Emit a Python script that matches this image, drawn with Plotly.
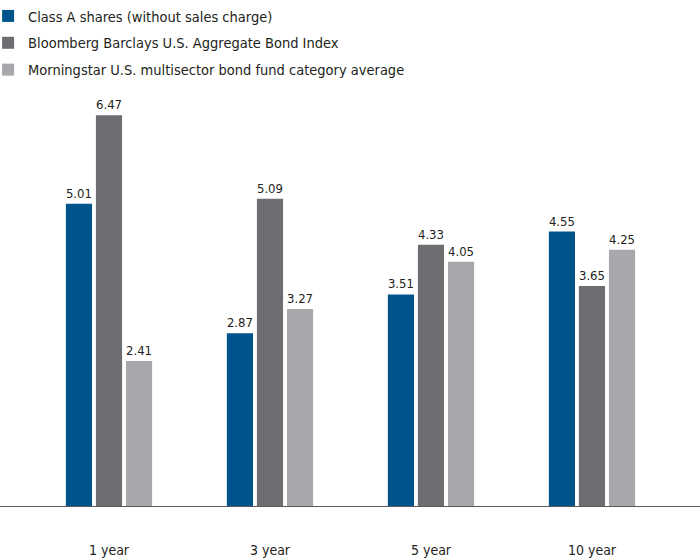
import plotly.graph_objects as go

categories = ["1 year", "3 year", "5 year", "10 year"]
series_names = [
    "Class A shares (without sales charge)",
    "Bloomberg Barclays U.S. Aggregate Bond Index",
    "Morningstar U.S. multisector bond fund category average",
]
class_a = [5.01, 2.87, 3.51, 4.55]
bloomberg = [6.47, 5.09, 4.33, 3.65]
morningstar = [2.41, 3.27, 4.05, 4.25]
colors = ["#00548b", "#6d6e71", "#a6a8ab"]

FONT = "Liberation Sans Narrow, DejaVu Sans Condensed, Open Sans, sans-serif"
xpos = list(range(len(categories)))

fig = go.Figure()
for i, (name, vals) in enumerate(zip(series_names, [class_a, bloomberg, morningstar])):
    fig.add_trace(go.Bar(
        x=xpos, y=vals, name=name, marker_color=colors[i], marker_line_width=0,
        text=[f"{v:.2f}" for v in vals], textposition="outside", constraintext="none",
        textfont=dict(size=13, color="#231f20", family=FONT),
        cliponaxis=False, legendgroup=f"g{i}",
    ))

fig.update_layout(
    width=700, height=559,
    margin=dict(l=0, r=0, t=90, b=52, autoexpand=False),
    paper_bgcolor="white", plot_bgcolor="white",
    barmode="group", bargap=0.44, bargroupgap=0.13,
    font=dict(family=FONT, color="#231f20"),
    showlegend=True,
    legend=dict(x=-0.017, y=1.0, xref="paper", yref="container", xanchor="left", yanchor="top",
                orientation="v", font=dict(size=14.5, family=FONT, color="#231f20"),
                tracegroupgap=5, bgcolor="rgba(0,0,0,0)"),
    xaxis=dict(range=[-0.677, 3.671], tickvals=xpos, ticktext=categories,
               showgrid=False, zeroline=False, showline=False, automargin=False,
               ticks="outside", ticklen=30, tickcolor="rgba(0,0,0,0)",
               tickfont=dict(size=14, family=FONT, color="#231f20"),
               fixedrange=True),
    yaxis=dict(range=[0, 6.887], visible=False, showgrid=False, zeroline=False,
               automargin=False, fixedrange=True),
)
fig.add_shape(type="line", xref="paper", yref="y", x0=0, x1=1, y0=0, y1=0,
              line=dict(color="#58595b", width=2))

fig.write_html("out.html", config={"displayModeBar": False},
               post_script="document.body.style.margin='0';document.body.style.overflow='hidden';")
